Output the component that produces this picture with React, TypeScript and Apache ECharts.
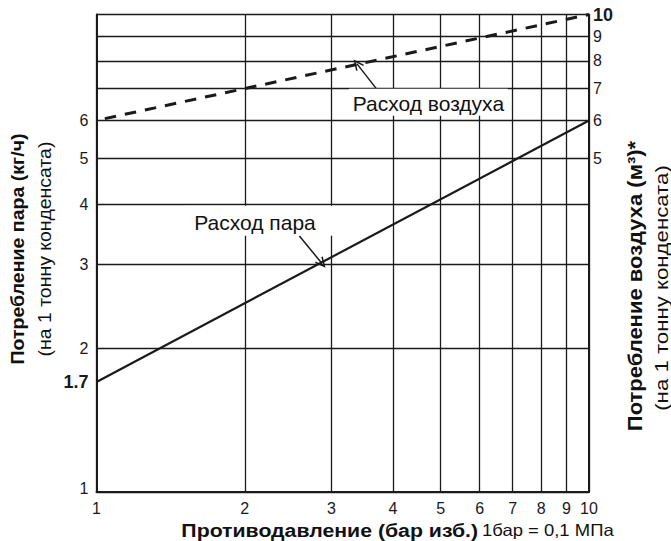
import React, { useEffect, useRef } from 'react';
import * as echarts from 'echarts';

// ---- data ----
const pressureTicks = [1, 2, 3, 4, 5, 6, 7, 8, 9, 10];
const gridValues = [1, 2, 3, 4, 5, 6, 7, 8, 9, 10];
const steamAxisLabels = [1, 1.7, 2, 3, 4, 5, 6];
const airAxisLabels = [5, 6, 7, 8, 9, 10];

const steamPressure = [1, 10];
const steamConsumption = [1.7, 6];
const airPressure = [1, 10];
const airConsumption = [6, 10];

const steamLabel = 'Расход пара';
const airLabel = 'Расход воздуха';
const steamLabelAt = [2.148, 3.7];
const airLabelAt = [4.72, 6.55];
const steamArrowFrom = [2.58, 3.44];
const steamArrowTo = [2.87, 3.01];
const airArrowFrom = [3.73, 6.92];
const airArrowTo = [3.38, 7.88];

const xTitleBold = 'Противодавление (бар изб.)';
const xTitleNote = '1бар = 0,1 МПа';
const leftTitle = 'Потребление пара (кг/ч)';
const rightTitle = 'Потребление воздуха (м³)*';
const subTitle = '(на 1 тонну конденсата)';

const FONT = '"Liberation Sans", Arial, sans-serif';
const INK = '#1a1a1a';
const OPEN_ARROW = 'path://M0,0 L5,10 L3.6,10.6 L0,3.2 L-3.6,10.6 L-5,10 Z';

export default function App() {
  const ref = useRef<HTMLDivElement>(null);
  useEffect(() => {
    if (!ref.current) return;
    const chart = echarts.init(ref.current, undefined, { renderer: 'svg' });
    const near = (a: number, b: number) => Math.abs(a - b) < 1e-6;
    const arrowLine = (from: number[], to: number[]) => ({
      silent: true,
      symbol: ['none', OPEN_ARROW],
      symbolSize: [10, 11],
      itemStyle: { color: INK },
      label: { show: false },
      lineStyle: { color: INK, width: 1.5, type: 'solid' },
      data: [[{ coord: from }, { coord: to }]],
    });
    const labelBox = (at: number[], text: string, size: number[], offset: number[]) => ({
      silent: true,
      symbol: 'rect',
      symbolSize: size,
      itemStyle: { color: '#ffffff' },
      label: {
        show: true,
        position: 'inside',
        formatter: text,
        color: '#111',
        fontSize: 21,
        fontFamily: FONT,
        offset,
      },
      data: [{ coord: at }],
    });
    const vText = (text: string, x: number, y: number, font: string, stretch: number) => ({
      type: 'text',
      x,
      y,
      rotation: Math.PI / 2,
      scaleX: stretch,
      style: { text, font, fill: '#111', align: 'center', verticalAlign: 'middle' },
    });
    chart.setOption({
      animation: false,
      backgroundColor: '#ffffff',
      textStyle: { fontFamily: FONT },
      grid: { left: 96.5, right: 82, top: 14.5, bottom: 49, containLabel: false },
      xAxis: {
        type: 'log',
        logBase: 10,
        min: 1,
        max: 10,
        axisLine: { show: true, lineStyle: { color: INK, width: 2 } },
        axisTick: { show: false, customValues: gridValues },
        splitLine: { show: true, lineStyle: { color: INK, width: 1.3 } },
        axisLabel: {
          customValues: pressureTicks,
          color: INK,
          fontSize: 16,
          fontFamily: FONT,
          margin: 8,
          formatter: (v: number) => String(Math.round(v)),
        },
      },
      yAxis: [
        {
          type: 'log',
          logBase: 10,
          min: 1,
          max: 10,
          position: 'left',
          axisLine: { show: true, lineStyle: { color: INK, width: 2 } },
          axisTick: { show: false, customValues: gridValues },
          splitLine: { show: true, lineStyle: { color: INK, width: 1.3 } },
          axisLabel: {
            customValues: steamAxisLabels,
            color: INK,
            fontSize: 16,
            fontFamily: FONT,
            margin: 8,
            formatter: (v: number) => (near(v, 1.7) ? '{b|1.7}' : near(v, 1) ? '{r|1}' : String(Math.round(v))),
            rich: {
              b: { fontWeight: 'bold', fontSize: 18, color: INK, fontFamily: FONT },
              r: { fontSize: 16, color: INK, fontFamily: FONT, padding: [0, 0, 8, 0] },
            },
          },
        },
        {
          type: 'log',
          logBase: 10,
          min: 1,
          max: 10,
          position: 'right',
          axisLine: { show: true, lineStyle: { color: INK, width: 2 } },
          axisTick: { show: false },
          splitLine: { show: false },
          axisLabel: {
            customValues: airAxisLabels,
            color: INK,
            fontSize: 16,
            fontFamily: FONT,
            margin: 4,
            formatter: (v: number) => (near(v, 10) ? '{b|10}' : String(Math.round(v))),
            rich: { b: { fontWeight: 'bold', fontSize: 18, color: INK, fontFamily: FONT } },
          },
        },
      ],
      series: [
        {
          name: airLabel,
          type: 'line',
          yAxisIndex: 0,
          showSymbol: false,
          symbol: 'none',
          z: 3,
          lineStyle: { color: INK, width: 3, type: [11.5, 9], dashOffset: 11.5 },
          data: airPressure.map((x, i) => [x, airConsumption[i]]),
          markPoint: labelBox(airLabelAt, airLabel, [159, 27], [0, 1]),
          markLine: arrowLine(airArrowFrom, airArrowTo),
        },
        {
          name: steamLabel,
          type: 'line',
          yAxisIndex: 0,
          showSymbol: false,
          symbol: 'none',
          z: 3,
          lineStyle: { color: INK, width: 2.2 },
          data: steamPressure.map((x, i) => [x, steamConsumption[i]]),
          markPoint: labelBox(steamLabelAt, steamLabel, [150, 30], [-5, 2]),
          markLine: arrowLine(steamArrowFrom, steamArrowTo),
        },
      ],
      graphic: [
        vText(leftTitle, 18, 249, `bold 19px ${FONT}`, 1.03),
        vText(subTitle, 45, 249, `18px ${FONT}`, 1.08),
        vText(rightTitle, 635, 286, `bold 20px ${FONT}`, 1.1),
        vText(subTitle, 661, 288, `19px ${FONT}`, 1.17),
        {
          type: 'text',
          x: 397.5,
          y: 530,
          scaleX: 1.12,
          style: {
            text: `{b|${xTitleBold}} {n|${xTitleNote}}`,
            align: 'center',
            verticalAlign: 'middle',
            rich: {
              b: { font: `bold 19px ${FONT}`, fill: '#111' },
              n: { font: `16.5px ${FONT}`, fill: '#111' },
            },
          },
        },
      ],
    });
    return () => chart.dispose();
  }, []);
  return (
    <div
      ref={ref}
      style={{ position: 'fixed', left: 0, top: 0, width: 671, height: 541, background: '#fff' }}
    />
  );
}
